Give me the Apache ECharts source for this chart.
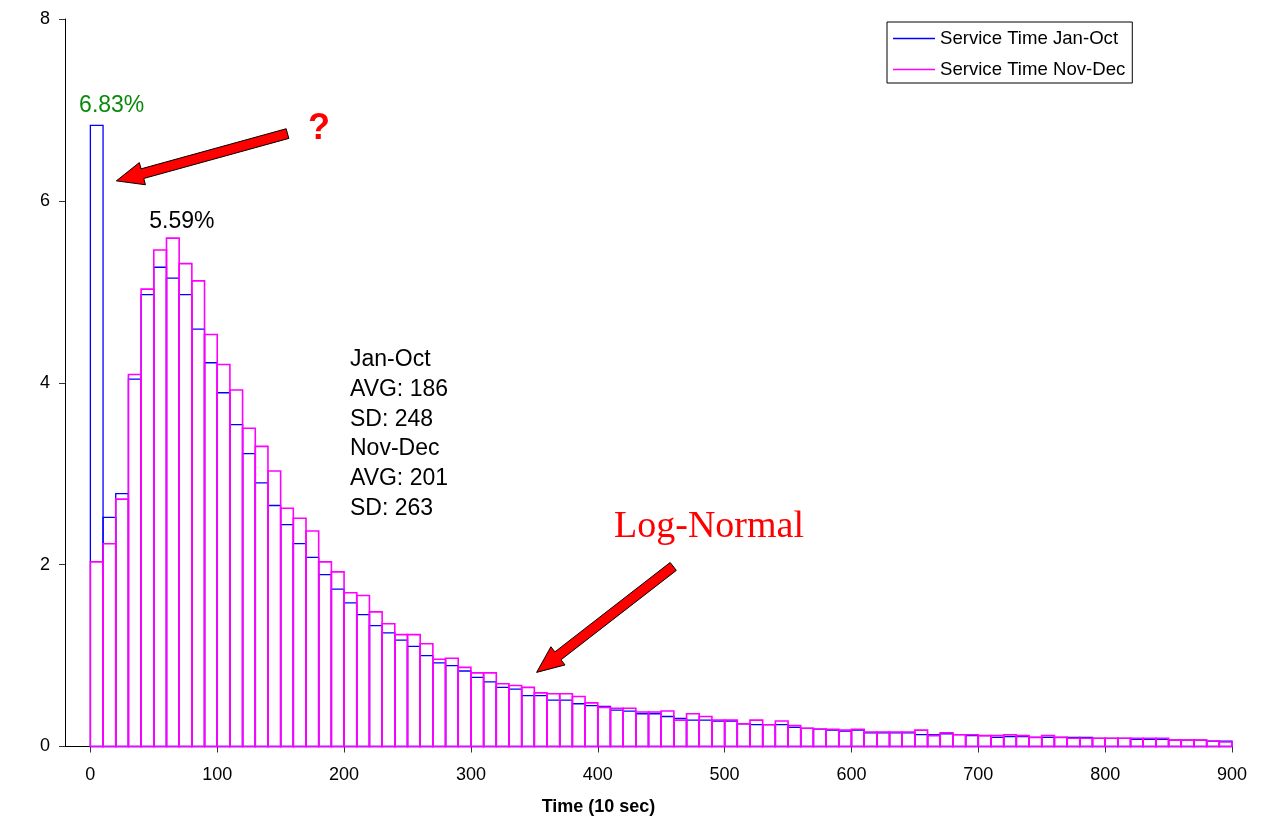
<!DOCTYPE html>
<html>
<head>
<meta charset="utf-8">
<title>Service Time Distribution</title>
<script src="https://cdn.jsdelivr.net/npm/echarts@6/dist/echarts.min.js"></script>
<style>
  html, body { margin: 0; padding: 0; background: #ffffff; }
  #chart { width: 1261px; height: 824px; }
</style>
</head>
<body>
<div id="chart"></div>
<script>
// Histogram of service times in 10-second bins (percent of calls per bin)
const binWidth = 10;
const binCount = 90;
const binStarts = Array.from({ length: binCount }, (_, i) => i * binWidth);

const seriesNames = ['Service Time Jan-Oct', 'Service Time Nov-Dec'];

const janOct = [
  6.83, 2.52, 2.78, 4.04, 4.97, 5.27, 5.15, 4.97, 4.59, 4.22,
  3.89, 3.54, 3.22, 2.90, 2.65, 2.44, 2.23, 2.08, 1.89, 1.73,
  1.58, 1.45, 1.33, 1.25, 1.17, 1.10, 1.00, 0.92, 0.89, 0.83,
  0.76, 0.71, 0.65, 0.63, 0.56, 0.56, 0.51, 0.51, 0.47, 0.45,
  0.44, 0.40, 0.39, 0.36, 0.36, 0.33, 0.31, 0.29, 0.29, 0.28,
  0.28, 0.25, 0.24, 0.24, 0.24, 0.21, 0.20, 0.19, 0.18, 0.17,
  0.18, 0.15, 0.15, 0.15, 0.15, 0.13, 0.13, 0.14, 0.13, 0.12,
  0.12, 0.10, 0.11, 0.11, 0.10, 0.10, 0.10, 0.10, 0.10, 0.09,
  0.09, 0.09, 0.08, 0.08, 0.08, 0.07, 0.07, 0.07, 0.06, 0.06
];

const novDec = [
  2.03, 2.23, 2.72, 4.09, 5.03, 5.46, 5.59, 5.31, 5.12, 4.53,
  4.20, 3.92, 3.50, 3.30, 3.03, 2.62, 2.51, 2.37, 2.03, 1.92,
  1.69, 1.66, 1.48, 1.35, 1.23, 1.23, 1.13, 0.96, 0.97, 0.87,
  0.81, 0.81, 0.69, 0.67, 0.65, 0.59, 0.58, 0.58, 0.55, 0.48,
  0.43, 0.42, 0.42, 0.38, 0.38, 0.39, 0.29, 0.36, 0.33, 0.29,
  0.29, 0.25, 0.29, 0.24, 0.28, 0.23, 0.20, 0.19, 0.19, 0.18,
  0.19, 0.16, 0.16, 0.16, 0.16, 0.18, 0.12, 0.15, 0.13, 0.13,
  0.12, 0.12, 0.13, 0.12, 0.10, 0.12, 0.10, 0.09, 0.09, 0.09,
  0.09, 0.09, 0.09, 0.09, 0.09, 0.07, 0.07, 0.07, 0.06, 0.05
];

const xTicks = [0, 100, 200, 300, 400, 500, 600, 700, 800, 900];
const yTicks = [0, 2, 4, 6, 8];

// Summary statistics shown beside the peak
const statsLines = ['Jan-Oct', 'AVG: 186', 'SD: 248', 'Nov-Dec', 'AVG: 201', 'SD: 263'];

const FONT = "'Liberation Sans', Arial, sans-serif";

function toPairs(values) {
  return values.map((v, i) => [binStarts[i], v]);
}

function peakIndex(values) {
  let best = 0;
  values.forEach((v, i) => { if (v > values[best]) best = i; });
  return best;
}

// Each bin is drawn as an unfilled outline rectangle
function makeHistogram(name, values, color, lineWidth, labelColor, labelDx, labelDy) {
  const peak = peakIndex(values);
  return {
    name: name,
    type: 'custom',
    clip: false,
    itemStyle: { color: color },
    encode: { x: 0, y: 1 },
    data: toPairs(values),
    renderItem: function (params, api) {
      const x0 = api.value(0);
      const v = api.value(1);
      const topLeft = api.coord([x0, v]);
      const bottomRight = api.coord([x0 + binWidth, 0]);
      const rect = {
        type: 'rect',
        shape: {
          x: topLeft[0],
          y: topLeft[1],
          width: bottomRight[0] - topLeft[0],
          height: bottomRight[1] - topLeft[1]
        },
        style: { fill: 'none', stroke: color, lineWidth: lineWidth }
      };
      if (params.dataIndex !== peak) return rect;
      return {
        type: 'group',
        children: [
          rect,
          {
            type: 'text',
            style: {
              text: v.toFixed(2) + '%',
              x: (topLeft[0] + bottomRight[0]) / 2 + labelDx,
              y: topLeft[1] + labelDy,
              fill: labelColor,
              fontSize: 23,
              fontFamily: FONT,
              align: 'center',
              verticalAlign: 'middle'
            }
          }
        ]
      };
    }
  };
}

const chart = echarts.init(document.getElementById('chart'), null, { renderer: 'canvas' });

const option = {
  backgroundColor: '#ffffff',
  animation: false,
  textStyle: { fontFamily: FONT },
  grid: { left: 65, right: 29, top: 19, bottom: 77.5, containLabel: false },
  legend: {
    left: 887,
    top: 22,
    orient: 'vertical',
    icon: 'rect',
    itemWidth: 42,
    itemHeight: 1.5,
    itemGap: 10,
    padding: [6, 7, 3, 6],
    borderColor: '#000000',
    borderWidth: 1,
    backgroundColor: '#ffffff',
    selectedMode: false,
    textStyle: { fontSize: 18.6, color: '#000000', fontFamily: FONT, lineHeight: 21 },
    data: seriesNames
  },
  xAxis: {
    type: 'value',
    min: -20,
    max: 900,
    name: 'Time (10 sec)',
    nameLocation: 'middle',
    nameGap: 52,
    nameTextStyle: {
      fontSize: 18,
      fontWeight: 'bold',
      color: '#000000',
      fontFamily: FONT,
      padding: [0, 100, 0, 0]
    },
    splitLine: { show: false },
    axisLine: { show: true, onZero: false, lineStyle: { color: '#000000', width: 1 } },
    axisTick: {
      show: true,
      inside: false,
      length: 6,
      customValues: xTicks,
      lineStyle: { color: '#333333', width: 1 }
    },
    axisLabel: {
      show: true,
      customValues: xTicks,
      margin: 20,
      fontSize: 18,
      color: '#000000',
      fontFamily: FONT
    }
  },
  yAxis: {
    type: 'value',
    min: 0,
    max: 8,
    interval: 2,
    splitLine: { show: false },
    axisLine: { show: true, onZero: false, lineStyle: { color: '#000000', width: 1 } },
    axisTick: { show: true, inside: false, length: 6, lineStyle: { color: '#333333', width: 1 } },
    axisLabel: {
      margin: 15,
      fontSize: 18,
      color: '#000000',
      fontFamily: FONT,
      formatter: function (v) { return yTicks.indexOf(v) >= 0 ? String(v) : ''; }
    }
  },
  series: [
    makeHistogram(seriesNames[0], janOct, '#0000ff', 1.3, '#0a8a0a', 15, -20),
    makeHistogram(seriesNames[1], novDec, '#ff00ff', 1.6, '#000000', 9, -17)
  ]
};

chart.setOption(option);

// Block arrow outline from tail to tip (pixel space)
function arrowPoints(tail, tip, shaftHalf, headHalf, headLen) {
  const dx = tip[0] - tail[0], dy = tip[1] - tail[1];
  const len = Math.hypot(dx, dy);
  const ux = dx / len, uy = dy / len;
  const nx = -uy, ny = ux;
  const bx = tip[0] - ux * headLen, by = tip[1] - uy * headLen;
  return [
    [tail[0] + nx * shaftHalf, tail[1] + ny * shaftHalf],
    [bx + nx * shaftHalf, by + ny * shaftHalf],
    [bx + nx * headHalf, by + ny * headHalf],
    [tip[0], tip[1]],
    [bx - nx * headHalf, by - ny * headHalf],
    [bx - nx * shaftHalf, by - ny * shaftHalf],
    [tail[0] - nx * shaftHalf, tail[1] - ny * shaftHalf]
  ];
}

// Arrow ends given in axis units so they stay attached to the plot
const arrows = [
  { tail: [155.4, 6.74], tip: [20.5, 6.22] },
  { tail: [459.5, 1.98], tip: [351.8, 0.815] }
];

function px(pt) {
  return chart.convertToPixel({ gridIndex: 0 }, pt);
}

const graphics = arrows.map(function (a) {
  return {
    type: 'polygon',
    z: 100,
    shape: { points: arrowPoints(px(a.tail), px(a.tip), 5, 11.5, 27) },
    style: { fill: '#ff0000', stroke: '#000000', lineWidth: 1 }
  };
});

graphics.push({
  type: 'text',
  z: 100,
  style: {
    text: '?',
    x: 319,
    y: 129,
    fill: '#ff0000',
    fontSize: 36,
    fontWeight: 'bold',
    fontFamily: FONT,
    align: 'center',
    verticalAlign: 'middle'
  }
});

graphics.push({
  type: 'text',
  z: 100,
  style: {
    text: 'Log-Normal',
    x: 709,
    y: 527,
    fill: '#ff0000',
    fontSize: 38,
    fontFamily: "'Liberation Serif', 'Times New Roman', serif",
    align: 'center',
    verticalAlign: 'middle'
  }
});

graphics.push({
  type: 'text',
  z: 100,
  style: {
    text: statsLines.join('\n'),
    x: 350,
    y: 345,
    fill: '#000000',
    fontSize: 23,
    lineHeight: 29.7,
    fontFamily: FONT,
    align: 'left',
    verticalAlign: 'top'
  }
});

chart.setOption({ graphic: graphics });
</script>
</body>
</html>
